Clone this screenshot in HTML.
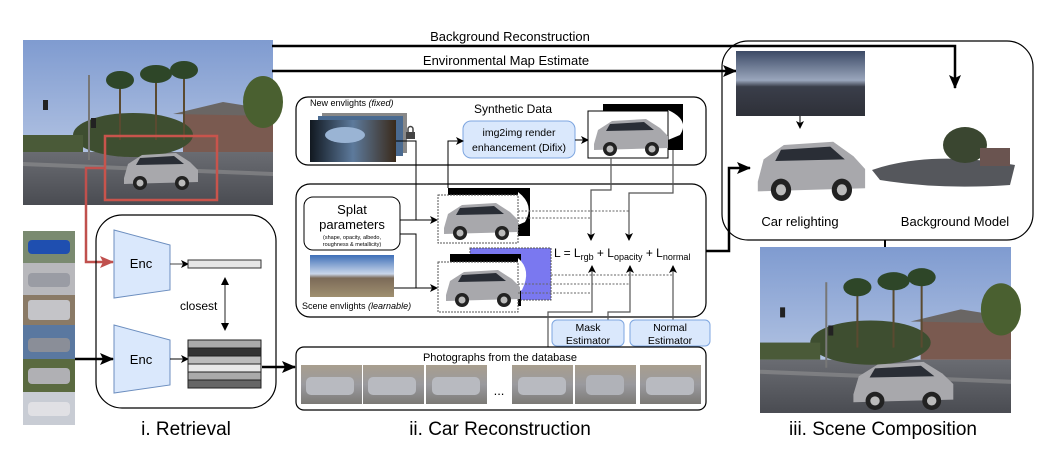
<!DOCTYPE html>
<html><head><meta charset="utf-8"><style>
html,body{margin:0;padding:0;background:#fff;}
svg{display:block;font-family:"Liberation Sans",Arial,sans-serif;}
</style></head><body>
<svg width="1048" height="474" viewBox="0 0 1048 474" xmlns="http://www.w3.org/2000/svg">
<defs>
<linearGradient id="sky" x1="0" y1="0" x2="0" y2="1"><stop offset="0" stop-color="#7f9bd0"/><stop offset="1" stop-color="#c8d4ea"/></linearGradient>
<linearGradient id="road" x1="0" y1="0" x2="0" y2="1"><stop offset="0" stop-color="#6a6c72"/><stop offset="1" stop-color="#4a4c52"/></linearGradient>
<linearGradient id="env" x1="0" y1="0" x2="0" y2="1"><stop offset="0" stop-color="#3c4a66"/><stop offset="0.45" stop-color="#9aa6bc"/><stop offset="0.55" stop-color="#3a3e4a"/><stop offset="1" stop-color="#2e3038"/></linearGradient>
<linearGradient id="env2" x1="0" y1="0" x2="0" y2="1"><stop offset="0" stop-color="#3e6fb8"/><stop offset="0.45" stop-color="#c9d6ea"/><stop offset="0.55" stop-color="#7b6a58"/><stop offset="1" stop-color="#a09070"/></linearGradient>
<linearGradient id="envd" x1="0" y1="0" x2="1" y2="0"><stop offset="0" stop-color="#111820"/><stop offset="0.5" stop-color="#5d7a9c"/><stop offset="1" stop-color="#3a2a1a"/></linearGradient>
<linearGradient id="ph" x1="0" y1="0" x2="0" y2="1"><stop offset="0" stop-color="#a89e8e"/><stop offset="0.5" stop-color="#9a9a9e"/><stop offset="1" stop-color="#7c7a76"/></linearGradient>
<marker id="ah" markerWidth="8" markerHeight="8" refX="7" refY="4" orient="auto" markerUnits="userSpaceOnUse"><path d="M0,0 L8,4 L0,8 L2,4z" fill="#000"/></marker>
<marker id="ahb" markerWidth="14" markerHeight="12" refX="13" refY="6" orient="auto" markerUnits="userSpaceOnUse"><path d="M0,0 L14,6 L0,12 L3,6z" fill="#000"/></marker>
<marker id="ahr" markerWidth="14" markerHeight="12" refX="13" refY="6" orient="auto" markerUnits="userSpaceOnUse"><path d="M0,0 L14,6 L0,12 L3,6z" fill="#c0504d"/></marker>
<g id="street">
<rect x="0" y="0" width="250" height="165" fill="url(#sky)"/>
<rect x="0" y="112" width="250" height="53" fill="url(#road)"/>
<rect x="160" y="72" width="90" height="40" fill="#7a5a50"/>
<polygon points="150,74 200,62 250,70 250,76" fill="#6a6664"/>
<ellipse cx="110" cy="95" rx="60" ry="22" fill="#3e4e30"/>
<ellipse cx="240" cy="62" rx="20" ry="26" fill="#4a6030"/>
<rect x="96" y="40" width="2" height="60" fill="#5a4a30"/><ellipse cx="97" cy="40" rx="14" ry="9" fill="#2e4628"/>
<rect x="132" y="35" width="2" height="65" fill="#5a4a30"/><ellipse cx="133" cy="34" rx="16" ry="9" fill="#2e4628"/>
<rect x="160" y="30" width="2" height="70" fill="#5a4a30"/><ellipse cx="161" cy="30" rx="14" ry="9" fill="#2e4628"/>
<rect x="0" y="95" width="60" height="17" fill="#4a5a38"/>
<rect x="65" y="35" width="2" height="85" fill="#777"/>
<rect x="20" y="60" width="5" height="10" fill="#222"/><rect x="68" y="78" width="5" height="10" fill="#222"/>
<polygon points="0,122 250,132 250,136 0,126" fill="#999" opacity=".5"/>
</g>
<g id="car">
<path d="M4,28 L8,14 L22,5 L56,3 L70,12 L78,20 L78,32 L4,34z" fill="#a8a8ac"/>
<path d="M20,8 L54,6 L64,14 L16,15z" fill="#2a2e36"/>
<circle cx="20" cy="33" r="7" fill="#222"/><circle cx="20" cy="33" r="3.5" fill="#bbb"/>
<circle cx="62" cy="33" r="7" fill="#222"/><circle cx="62" cy="33" r="3.5" fill="#bbb"/>
</g>
</defs>

<use href="#street" x="23" y="40"/>
<use href="#car" x="120" y="150"/>
<rect x="105" y="136" width="112" height="64" fill="none" stroke="#c8544c" stroke-width="2.5"/>
<polyline points="105,168 86,168 86,262 113,262" fill="none" stroke="#c0504d" stroke-width="2.5" marker-end="url(#ahr)"/>

<text x="510" y="41" font-size="13" text-anchor="middle">Background Reconstruction</text>
<polyline points="272,46 955,46 955,88" fill="none" stroke="#000" stroke-width="2.5" marker-end="url(#ahb)"/>
<text x="506" y="65" font-size="13" text-anchor="middle">Environmental Map Estimate</text>
<polyline points="272,71 736,71" fill="none" stroke="#000" stroke-width="2.5" marker-end="url(#ahb)"/>

<g>
<rect x="23" y="231" width="52" height="32" fill="#7a8a70"/><rect x="28" y="240" width="42" height="14" rx="4" fill="#1f4fb0"/>
<rect x="23" y="263" width="52" height="32" fill="#b8b8bc"/><rect x="28" y="273" width="42" height="14" rx="4" fill="#9a9ca4"/>
<rect x="23" y="295" width="52" height="30" fill="#8a7a66"/><rect x="28" y="300" width="42" height="20" rx="3" fill="#c4c4c8"/>
<rect x="23" y="325" width="52" height="34" fill="#5a78a0"/><rect x="28" y="338" width="42" height="14" rx="4" fill="#8a8e98"/>
<rect x="23" y="359" width="52" height="33" fill="#5a6a40"/><rect x="28" y="368" width="42" height="16" rx="4" fill="#b0b0b4"/>
<rect x="23" y="392" width="52" height="33" fill="#c8ccd4"/><rect x="28" y="402" width="42" height="14" rx="4" fill="#e0e0e4"/>
</g>

<rect x="96" y="215" width="180" height="193" rx="26" fill="none" stroke="#000" stroke-width="1.2"/>
<polygon points="114,230 170,245 170,290 114,298" fill="#dae8fc" stroke="#6c8ebf" stroke-width="1"/>
<text x="141" y="268" font-size="13" text-anchor="middle">Enc</text>
<polygon points="114,325 170,340 170,385 114,393" fill="#dae8fc" stroke="#6c8ebf" stroke-width="1"/>
<text x="141" y="364" font-size="13" text-anchor="middle">Enc</text>
<line x1="170" y1="264" x2="188" y2="264" stroke="#444" marker-end="url(#ah)"/>
<rect x="188" y="260" width="73" height="8" fill="#e6e6e6" stroke="#333"/>
<line x1="170" y1="359" x2="188" y2="359" stroke="#000" marker-end="url(#ah)"/>
<g stroke="#222" stroke-width="1">
<rect x="188" y="340" width="73" height="8" fill="#aaa"/>
<rect x="188" y="348" width="73" height="8" fill="#333"/>
<rect x="188" y="356" width="73" height="8" fill="#bbb"/>
<rect x="188" y="364" width="73" height="8" fill="#e8e8e8"/>
<rect x="188" y="372" width="73" height="8" fill="#aaa"/>
<rect x="188" y="380" width="73" height="8" fill="#666"/>
</g>
<line x1="225" y1="279" x2="225" y2="329" stroke="#222"/>
<path d="M221,285 L225,277 L229,285z M221,323 L225,331 L229,323z" fill="#000"/>
<text x="180" y="310" font-size="12">closest</text>
<line x1="75" y1="359" x2="113" y2="359" stroke="#000" stroke-width="2.5" marker-end="url(#ahb)"/>
<line x1="262" y1="367" x2="295" y2="367" stroke="#000" stroke-width="2.5" marker-end="url(#ahb)"/>
<text x="186" y="435" font-size="19" text-anchor="middle">i. Retrieval</text>

<rect x="296" y="97" width="410" height="68" rx="12" fill="none" stroke="#000" stroke-width="1.2"/>
<text x="310" y="106" font-size="9">New envlights <tspan font-style="italic">(fixed)</tspan></text>
<rect x="322" y="113" width="85" height="40" fill="#888"/>
<rect x="318" y="116" width="85" height="40" fill="#4a6a90"/>
<rect x="310" y="120" width="86" height="42" fill="url(#envd)"/>
<ellipse cx="345" cy="135" rx="20" ry="8" fill="#9ab4d4"/>
<rect x="406" y="132" width="9" height="7" fill="#444"/><path d="M408,132 v-3 a2.5,2.5 0 0 1 5,0 v3" fill="none" stroke="#444" stroke-width="1.5"/>
<text x="513" y="113" font-size="12" text-anchor="middle">Synthetic Data</text>
<rect x="463" y="121" width="112" height="37" rx="8" fill="#dae8fc" stroke="#7ea6e0"/>
<text x="519" y="136" font-size="10.5" text-anchor="middle">img2img render</text>
<text x="519" y="151" font-size="10.5" text-anchor="middle">enhancement (Difix)</text>
<line x1="575" y1="140" x2="588" y2="140" stroke="#000" marker-end="url(#ah)"/>
<rect x="603" y="104" width="80" height="46" fill="#000"/>
<path d="M668,110 Q690,120 680,135 L668,140z" fill="#fff"/>
<rect x="588" y="111" width="80" height="47" fill="#fff" stroke="#000"/>
<use href="#car" x="590" y="116"/>

<rect x="296" y="184" width="410" height="133" rx="14" fill="none" stroke="#000" stroke-width="1.2"/>
<rect x="304" y="197" width="96" height="53" rx="9" fill="#fff" stroke="#000"/>
<text x="352" y="214" font-size="13" text-anchor="middle">Splat</text>
<text x="352" y="229" font-size="13" text-anchor="middle">parameters</text>
<text x="352" y="239" font-size="5.5" text-anchor="middle">(shape, opacity, albedo,</text>
<text x="352" y="246" font-size="5.5" text-anchor="middle">roughness &amp; metallicity)</text>
<rect x="310" y="255" width="84" height="42" fill="url(#env2)"/>
<text x="302" y="309" font-size="9">Scene envlights <tspan font-style="italic">(learnable)</tspan></text>

<g fill="none" stroke="#000" stroke-width="1">
<polyline points="396,141 416,141 416,220"/>
<polyline points="400,220 437,220" marker-end="url(#ah)"/>
<polyline points="400,234 416,234 416,288"/>
<polyline points="394,288 437,288" marker-end="url(#ah)"/>
<polyline points="448,188 448,141 463,141" marker-end="url(#ah)"/>
</g>
<rect x="448" y="188" width="82" height="48" fill="#000"/>
<path d="M518,192 Q535,205 525,222 L518,225z" fill="#fff"/>
<rect x="438" y="195" width="80" height="48" fill="#fff" stroke="#555" stroke-dasharray="2,1"/>
<use href="#car" x="440" y="200"/>
<rect x="470" y="248" width="81" height="52" fill="#7a78f0" stroke="#555" stroke-dasharray="2,1"/>
<rect x="450" y="254" width="71" height="52" fill="#000"/>
<path d="M518,258 Q532,270 522,290 L518,292z" fill="#fff"/>
<rect x="438" y="262" width="80" height="50" fill="#fff" stroke="#555" stroke-dasharray="2,1"/>
<use href="#car" x="442" y="267"/>

<g stroke="#666" stroke-width="1" stroke-dasharray="2,1.5" fill="none">
<line x1="518" y1="211" x2="630" y2="211"/><line x1="518" y1="218" x2="590" y2="218"/>
<line x1="551" y1="275" x2="673" y2="275"/><line x1="518" y1="284" x2="630" y2="284"/><line x1="518" y1="293" x2="592" y2="293"/>
</g>
<g fill="none" stroke="#555" stroke-width="1.2">
<polyline points="611,158 611,190 591,190 591,240" marker-end="url(#ah)"/>
<polyline points="673,150 673,193 629,193 629,240" marker-end="url(#ah)"/>
<polyline points="548,347 548,312 592,312 592,266" marker-end="url(#ah)"/>
<polyline points="608,320 608,312 630,312 630,266" marker-end="url(#ah)"/>
<polyline points="673,320 673,266" marker-end="url(#ah)"/>
</g>
<text x="554" y="257" font-size="12" fill="#000">L = L<tspan font-size="9" dy="3">rgb</tspan><tspan dy="-3"> + L</tspan><tspan font-size="9" dy="3">opacity</tspan><tspan dy="-3"> + L</tspan><tspan font-size="9" dy="3">normal</tspan></text>

<rect x="552" y="320" width="72" height="26" rx="5" fill="#dae8fc" stroke="#7ea6e0"/>
<text x="588" y="331" font-size="10.5" text-anchor="middle">Mask</text>
<text x="588" y="344" font-size="10.5" text-anchor="middle">Estimator</text>
<rect x="630" y="320" width="80" height="26" rx="5" fill="#dae8fc" stroke="#7ea6e0"/>
<text x="670" y="331" font-size="10.5" text-anchor="middle">Normal</text>
<text x="670" y="344" font-size="10.5" text-anchor="middle">Estimator</text>

<polyline points="706,251 729,251 729,168 750,168" fill="none" stroke="#000" stroke-width="2.5" marker-end="url(#ahb)"/>

<rect x="296" y="347" width="410" height="63" rx="8" fill="#fff" stroke="#000" stroke-width="1.2"/>
<text x="500" y="361" font-size="11" text-anchor="middle">Photographs from the database</text>
<g>
<rect x="301" y="365" width="61" height="39" fill="url(#ph)"/>
<rect x="363" y="365" width="61" height="39" fill="url(#ph)"/>
<rect x="426" y="365" width="61" height="39" fill="url(#ph)"/>
<rect x="512" y="365" width="61" height="39" fill="url(#ph)"/>
<rect x="575" y="365" width="61" height="39" fill="url(#ph)"/>
<rect x="640" y="365" width="61" height="39" fill="url(#ph)"/>
<rect x="306" y="377" width="48" height="18" rx="5" fill="#b8bac0"/>
<rect x="368" y="377" width="48" height="18" rx="5" fill="#b8bac0"/>
<rect x="432" y="377" width="48" height="18" rx="5" fill="#b8bac0"/>
<rect x="518" y="377" width="48" height="18" rx="5" fill="#b8bac0"/>
<rect x="586" y="375" width="38" height="20" rx="5" fill="#b0b2b8"/>
<rect x="646" y="377" width="48" height="18" rx="5" fill="#b8bac0"/>
</g>
<text x="499" y="395" font-size="13" text-anchor="middle">...</text>
<text x="500" y="435" font-size="19" text-anchor="middle">ii. Car Reconstruction</text>

<rect x="722" y="41" width="311" height="199" rx="26" fill="none" stroke="#000" stroke-width="1.2"/>
<rect x="736" y="51" width="129" height="65" fill="url(#env)"/>
<line x1="800" y1="116" x2="800" y2="128" stroke="#000" marker-end="url(#ah)"/>
<g transform="translate(752,137) scale(1.45,1.6)"><use href="#car"/></g>
<path d="M872,170 Q930,150 1015,165 L1010,185 Q940,190 880,180z" fill="#55575c"/>
<ellipse cx="965" cy="145" rx="22" ry="18" fill="#3a4630"/>
<rect x="980" y="148" width="30" height="18" fill="#6a5450"/>
<text x="800" y="226" font-size="13" text-anchor="middle">Car relighting</text>
<text x="955" y="226" font-size="13" text-anchor="middle">Background Model</text>
<line x1="885" y1="240" x2="885" y2="247" stroke="#000" stroke-width="2"/>
<g transform="translate(760,247) scale(1.004,1.006)"><use href="#street"/></g>
<g transform="translate(848,358) scale(1.35,1.3)"><use href="#car"/></g>
<text x="883" y="435" font-size="19" text-anchor="middle">iii. Scene Composition</text>
</svg>
</body></html>
